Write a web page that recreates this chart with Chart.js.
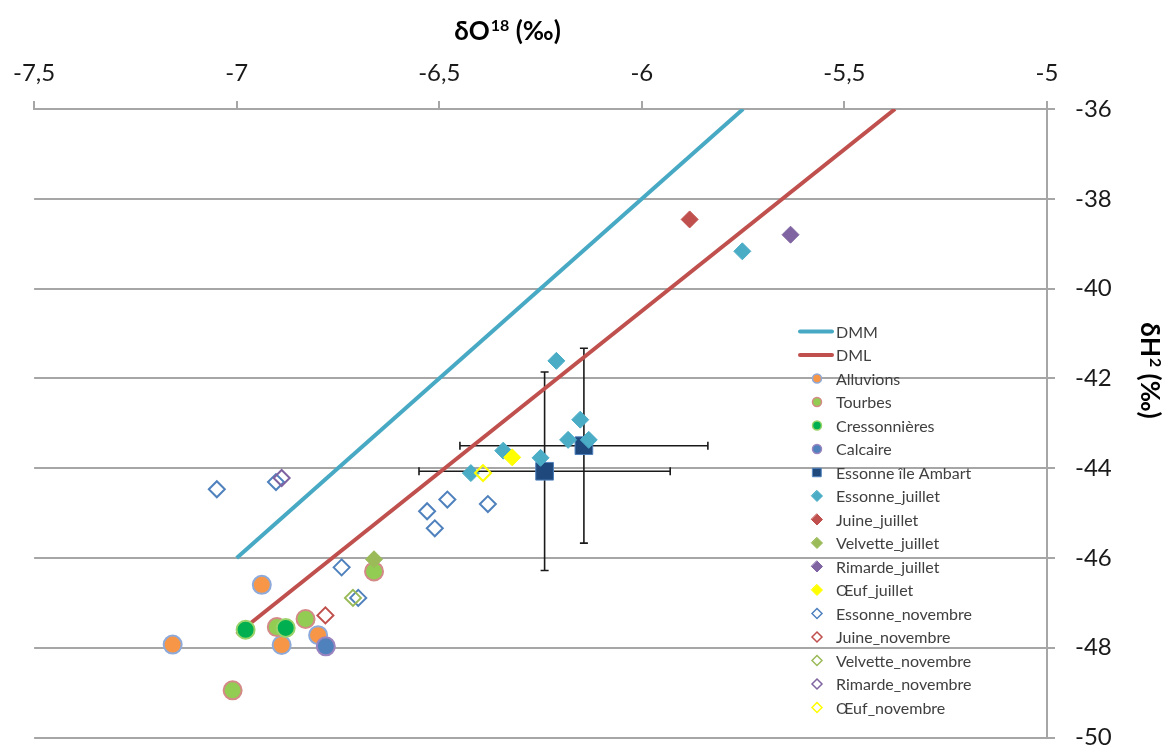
<!doctype html>
<html>

<head>
  <title>δO18 / δH2</title>
  <script src="https://cdn.jsdelivr.net/npm/chart.js@4/dist/chart.umd.min.js"></script>
  <style>
    body {
      margin: 0;
      background: #fff;
    }
  </style>
</head>

<body>
<canvas id="canvas" width="1170" height="751"></canvas>
<script>
  var FONT = 'Lato, "Open Sans", sans-serif';

  // axes
  var X_MIN = -7.5, X_MAX = -5, X_STEP = 0.5;
  var Y_MIN = -50, Y_MAX = -36, Y_STEP = 2;

  // water lines (end points)
  var dmmX = [-7, -5.75];
  var dmmY = [-46, -36];
  var dmlX = [-7, -5.375];
  var dmlY = [-47.7, -36];

  // samples
  var alluvionsX = [-6.938, -7.158, -6.889, -6.799];
  var alluvionsY = [-46.6, -47.93, -47.94, -47.72];
  var tourbesX = [-7.01, -6.901, -6.83, -6.661];
  var tourbesY = [-48.95, -47.54, -47.36, -46.3];
  var cressonX = [-6.978, -6.879];
  var cressonY = [-47.6, -47.56];
  var calcaireX = [-6.78];
  var calcaireY = [-47.97];
  var ambartX = [-6.24, -6.143];
  var ambartY = [-44.07, -43.5];
  var ambartXErr = [0.31, 0.306];
  var ambartYErr = [2.21, 2.17];
  var essJulX = [-6.211, -6.152, -6.182, -6.131, -6.342, -6.25, -6.422, -5.752];
  var essJulY = [-41.61, -42.92, -43.37, -43.37, -43.61, -43.77, -44.11, -39.17];
  var juineJulX = [-5.882];
  var juineJulY = [-38.46];
  var velvJulX = [-6.661];
  var velvJulY = [-46.03];
  var rimJulX = [-5.633];
  var rimJulY = [-38.8];
  var oeufJulX = [-6.32];
  var oeufJulY = [-43.76];
  var essNovX = [-7.049, -6.903, -6.48, -6.53, -6.511, -6.38, -6.741, -6.70];
  var essNovY = [-44.47, -44.31, -44.7, -44.96, -45.34, -44.8, -46.21, -46.89];
  var juineNovX = [-6.781];
  var juineNovY = [-47.28];
  var velvNovX = [-6.713];
  var velvNovY = [-46.89];
  var rimNovX = [-6.889];
  var rimNovY = [-44.22];
  var oeufNovX = [-6.392];
  var oeufNovY = [-44.11];

  function xy(xs, ys) {
    return xs.map(function (x, i) { return { x: x, y: ys[i] }; });
  }

  function line(label, xs, ys, color) {
    return {
      label: label, data: xy(xs, ys), showLine: true, isLine: true,
      borderColor: color, backgroundColor: color, borderWidth: 4,
      pointRadius: 0, fill: false
    };
  }

  function marks(label, xs, ys, style, r, fill, stroke, bw, legendR) {
    return {
      label: label, data: xy(xs, ys), showLine: false,
      pointStyle: style, pointRadius: r, pointHoverRadius: r,
      pointBackgroundColor: fill, pointBorderColor: stroke, pointBorderWidth: bw,
      backgroundColor: fill, borderColor: stroke, borderWidth: bw,
      legendR: legendR
    };
  }

  var NONE = 'rgba(0,0,0,0)';
  var datasets = [
    line('DMM', dmmX, dmmY, '#47a9c3'),
    line('DML', dmlX, dmlY, '#c0504d'),
    marks('Alluvions', alluvionsX, alluvionsY, 'circle', 9, '#f79646', '#8eaadb', 2, 4.5),
    marks('Tourbes', tourbesX, tourbesY, 'circle', 9, '#92cc52', '#d48a87', 2, 4.5),
    marks('Cressonnières', cressonX, cressonY, 'circle', 9, '#00b050', '#9bd36b', 2, 4.5),
    marks('Calcaire', calcaireX, calcaireY, 'circle', 9, '#4f81bd', '#9b85c0', 2, 4.5),
    marks('Essonne île Ambart', ambartX, ambartY, 'rect', 12.5, '#1f497d', '#4f81bd', 1, 6),
    marks('Essonne_juillet', essJulX, essJulY, 'rectRot', 8.5, '#4bacc6', '#4bacc6', 1, 5.5),
    marks('Juine_juillet', juineJulX, juineJulY, 'rectRot', 8.5, '#c0504d', '#c0504d', 1, 5.5),
    marks('Velvette_juillet', velvJulX, velvJulY, 'rectRot', 8.5, '#9bbb59', '#9bbb59', 1, 5.5),
    marks('Rimarde_juillet', rimJulX, rimJulY, 'rectRot', 8.5, '#8064a2', '#8064a2', 1, 5.5),
    marks('Œuf_juillet', oeufJulX, oeufJulY, 'rectRot', 8.5, '#ffff00', '#ffff00', 1, 5.5),
    marks('Essonne_novembre', essNovX, essNovY, 'rectRot', 8, NONE, '#4f81bd', 2, 5),
    marks('Juine_novembre', juineNovX, juineNovY, 'rectRot', 8, NONE, '#c0504d', 2, 5),
    marks('Velvette_novembre', velvNovX, velvNovY, 'rectRot', 8, NONE, '#9bbb59', 2, 5),
    marks('Rimarde_novembre', rimNovX, rimNovY, 'rectRot', 8, NONE, '#8064a2', 2, 5),
    marks('Œuf_novembre', oeufNovX, oeufNovY, 'rectRot', 8, NONE, '#ffff00', 2, 5)
  ];
  // later series on top, like the original
  datasets.forEach(function (ds, i) { ds.order = datasets.length - i; });

  function drawMarker(ctx, style, r, x, y, fill, stroke, bw) {
    ctx.beginPath();
    if (style === 'circle') {
      ctx.arc(x, y, r, 0, 2 * Math.PI);
    } else if (style === 'rectRot') {
      ctx.moveTo(x, y - r); ctx.lineTo(x + r, y); ctx.lineTo(x, y + r); ctx.lineTo(x - r, y);
      ctx.closePath();
    } else {
      var h = r * Math.SQRT1_2;
      ctx.rect(x - h, y - h, 2 * h, 2 * h);
    }
    ctx.fillStyle = fill;
    ctx.fill();
    if (bw > 0) {
      ctx.lineWidth = bw;
      ctx.strokeStyle = stroke;
      ctx.stroke();
    }
  }

  var errorBars = {
    id: 'errorBars',
    beforeDatasetsDraw: function (chart) {
      var ctx = chart.ctx, sx = chart.scales.x, sy = chart.scales.y, cap = 4;
      ctx.save();
      ctx.strokeStyle = '#1a1a1a';
      ctx.lineWidth = 1.6;
      ambartX.forEach(function (v, i) {
        var cx = sx.getPixelForValue(v), cy = sy.getPixelForValue(ambartY[i]);
        var x0 = sx.getPixelForValue(v - ambartXErr[i]), x1 = sx.getPixelForValue(v + ambartXErr[i]);
        var y0 = sy.getPixelForValue(ambartY[i] - ambartYErr[i]), y1 = sy.getPixelForValue(ambartY[i] + ambartYErr[i]);
        ctx.beginPath();
        ctx.moveTo(x0, cy); ctx.lineTo(x1, cy);
        ctx.moveTo(x0, cy - cap); ctx.lineTo(x0, cy + cap);
        ctx.moveTo(x1, cy - cap); ctx.lineTo(x1, cy + cap);
        ctx.moveTo(cx, y0); ctx.lineTo(cx, y1);
        ctx.moveTo(cx - cap, y0); ctx.lineTo(cx + cap, y0);
        ctx.moveTo(cx - cap, y1); ctx.lineTo(cx + cap, y1);
        ctx.stroke();
      });
      ctx.restore();
    }
  };

  // title with a superscript part, centred on (0, 0) of the current transform
  function supTitle(ctx, base, sup, tail) {
    var big = 'bold 26px ' + FONT, small = 'bold 16px ' + FONT;
    ctx.font = big;
    var w1 = ctx.measureText(base).width, w3 = ctx.measureText(tail).width;
    ctx.font = small;
    var w2 = ctx.measureText(sup).width;
    var x = -(w1 + w2 + w3) / 2, baseY = 9;
    ctx.textAlign = 'left';
    ctx.textBaseline = 'alphabetic';
    ctx.fillStyle = '#000';
    ctx.font = big;
    ctx.fillText(base, x, baseY);
    ctx.font = small;
    ctx.fillText(sup, x + w1 + 1, baseY - 9);
    ctx.font = big;
    ctx.fillText(tail, x + w1 + w2 + 1, baseY);
  }

  var decorations = {
    id: 'decorations',
    afterDraw: function (chart) {
      var ctx = chart.ctx;
      ctx.save();
      ctx.translate(507, 31);
      supTitle(ctx, 'δO', '18', ' (‰)');
      ctx.restore();

      ctx.save();
      ctx.translate(1150, 370);
      ctx.rotate(Math.PI / 2);
      supTitle(ctx, 'δH', '2', ' (‰)');
      ctx.restore();

      // legend inside the plot
      var top = 331.5, step = 23.5;
      ctx.save();
      ctx.font = '16px ' + FONT;
      ctx.textBaseline = 'middle';
      ctx.textAlign = 'left';
      chart.data.datasets.forEach(function (ds, i) {
        var y = top + i * step;
        if (ds.isLine) {
          ctx.beginPath();
          ctx.lineCap = 'round';
          ctx.lineWidth = 4;
          ctx.strokeStyle = ds.borderColor;
          ctx.moveTo(800, y); ctx.lineTo(832, y);
          ctx.stroke();
        } else {
          drawMarker(ctx, ds.pointStyle, ds.legendR, 817, y, ds.backgroundColor, ds.borderColor,
            Math.min(ds.borderWidth, 1.5));
        }
        ctx.fillStyle = '#404040';
        ctx.fillText(ds.label, 836, y + 1);
      });
      ctx.restore();
    }
  };

  window.onload = function () {
    var ctx = document.getElementById('canvas').getContext('2d');
    window.myChart = new Chart(ctx, {
      type: 'scatter',
      data: { datasets: datasets },
      plugins: [errorBars, decorations],
      options: {
        responsive: false,
        animation: false,
        devicePixelRatio: 1,
        layout: { padding: { left: 32, right: 0, top: 0, bottom: 11 } },
        plugins: {
          legend: { display: false },
          tooltip: { enabled: false }
        },
        scales: {
          x: {
            type: 'linear',
            position: 'top',
            min: X_MIN,
            max: X_MAX,
            afterFit: function (s) { s.height = 109; },
            ticks: {
              stepSize: X_STEP,
              padding: 13,
              maxRotation: 0,
              autoSkip: false,
              color: '#1a1a1a',
              font: { family: FONT, size: 24 },
              callback: function (v) { return String(v).replace('.', ','); }
            },
            grid: { drawOnChartArea: false, color: '#a6a6a6', lineWidth: 2, tickLength: 8 },
            border: { color: '#a6a6a6', width: 2 }
          },
          y: {
            type: 'linear',
            position: 'right',
            min: Y_MIN,
            max: Y_MAX,
            afterFit: function (s) {
              s.width = 123;
              s.paddingTop = 0;
              s.paddingBottom = 0;
            },
            ticks: {
              stepSize: Y_STEP,
              padding: 20,
              color: '#1a1a1a',
              font: { family: FONT, size: 24 }
            },
            grid: { color: '#a6a6a6', lineWidth: 2, tickLength: 8 },
            border: { color: '#a6a6a6', width: 2 }
          }
        }
      }
    });
  };
</script>
</body>

</html>
